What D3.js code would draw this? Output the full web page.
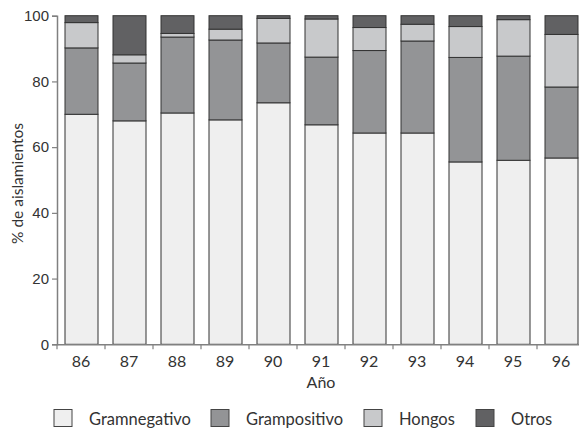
<!DOCTYPE html>
<html><head><meta charset="utf-8">
<script src="https://cdn.jsdelivr.net/npm/d3@7"></script>
<style>body{margin:0;background:#fff}svg{display:block}</style>
</head><body>
<svg id="c" width="579" height="430"></svg>
<script>
const years = ["86","87","88","89","90","91","92","93","94","95","96"];
const gramnegativo = [70.0,68.0,70.4,68.3,73.5,66.8,64.3,64.3,55.5,56.0,56.7];
const grampositivo = [20.2,17.6,23.1,24.3,18.2,20.6,25.1,28.0,31.8,31.7,21.6];
const hongos       = [7.7,2.5,1.1,3.3,7.5,11.6,7.0,5.1,9.4,11.1,16.0];
const otros        = [2.1,11.9,5.4,4.1,0.8,1.0,3.6,2.6,3.3,1.2,5.7];
const seriesNames = ["Gramnegativo","Grampositivo","Hongos","Otros"];
const colors = ["#efefef","#939496","#c8c9cb","#616163"];
const yTicks = [0,20,40,60,80,100];

const rows = years.map((y,i)=>({year:y, Gramnegativo:gramnegativo[i], Grampositivo:grampositivo[i], Hongos:hongos[i], Otros:otros[i]}));
const stack = d3.stack().keys(seriesNames)(rows);

const svg = d3.select("#c");
const x = d3.scaleBand().domain(years).range([57,585]).padding(0);
const y = d3.scaleLinear().domain([0,100]).range([344.3,15.7]);
const color = d3.scaleOrdinal().domain(seriesNames).range(colors);
const bw = 33;

// bars
svg.append("g").selectAll("g").data(stack).join("g")
  .attr("fill", d=>color(d.key))
  .selectAll("rect").data(d=>d).join("rect")
  .attr("x", d=>x(d.data.year)+ (x.bandwidth()-bw)/2 + 0.5)
  .attr("width", bw)
  .attr("y", d=>y(d[1]))
  .attr("height", d=>y(d[0])-y(d[1]))
  .attr("stroke","#333").attr("stroke-width",1);

// y axis
const ya = svg.append("g").attr("transform","translate(57,0)")
  .call(d3.axisLeft(y).tickValues(yTicks).tickSize(5).tickPadding(3));
ya.select(".domain").attr("stroke","#808080").attr("stroke-width",1.5);
ya.selectAll(".tick line").attr("stroke","#808080").attr("stroke-width",1.2);
ya.selectAll(".tick text").attr("font-family","'Liberation Sans', Arial, sans-serif").attr("font-size",15).attr("fill","#333");

// x axis
const xa = svg.append("g").attr("transform","translate(0,344.3)")
  .call(d3.axisBottom(x).tickSize(0).tickPadding(11));
xa.select(".domain").attr("stroke","#808080").attr("stroke-width",1.5);
xa.selectAll(".tick text").attr("font-family","Lato, sans-serif").attr("font-size",16).attr("fill","#333");
const edges = years.map(d=>x(d)).concat([x(years[years.length-1])+x.bandwidth()]);
xa.selectAll("line.edge").data(edges).join("line").attr("class","edge")
  .attr("x1",d=>d).attr("x2",d=>d).attr("y1",0).attr("y2",5)
  .attr("stroke","#808080").attr("stroke-width",1.2);

// axis titles
svg.append("text").attr("x",(57+585)/2).attr("y",388).attr("text-anchor","middle")
  .attr("font-family","Lato, sans-serif").attr("font-size",16).attr("fill","#333").text("Año");
svg.append("text").attr("transform","translate(23,183.5) rotate(-90)").attr("text-anchor","middle")
  .attr("font-family","Lato, sans-serif").attr("font-size",15.5).attr("fill","#333").text("% de aislamientos");

// legend
const legX = [54,211,364,476];
const lg = svg.append("g").selectAll("g").data(seriesNames).join("g")
  .attr("transform",(d,i)=>`translate(${legX[i]},409.5)`);
lg.append("rect").attr("width",18).attr("height",17).attr("fill",d=>color(d)).attr("stroke","#444").attr("stroke-width",1);
lg.append("text").attr("x",35).attr("y",15).attr("font-family","Lato, sans-serif").attr("font-size",16.5).attr("fill","#333").text(d=>d);
</script>
</body></html>
